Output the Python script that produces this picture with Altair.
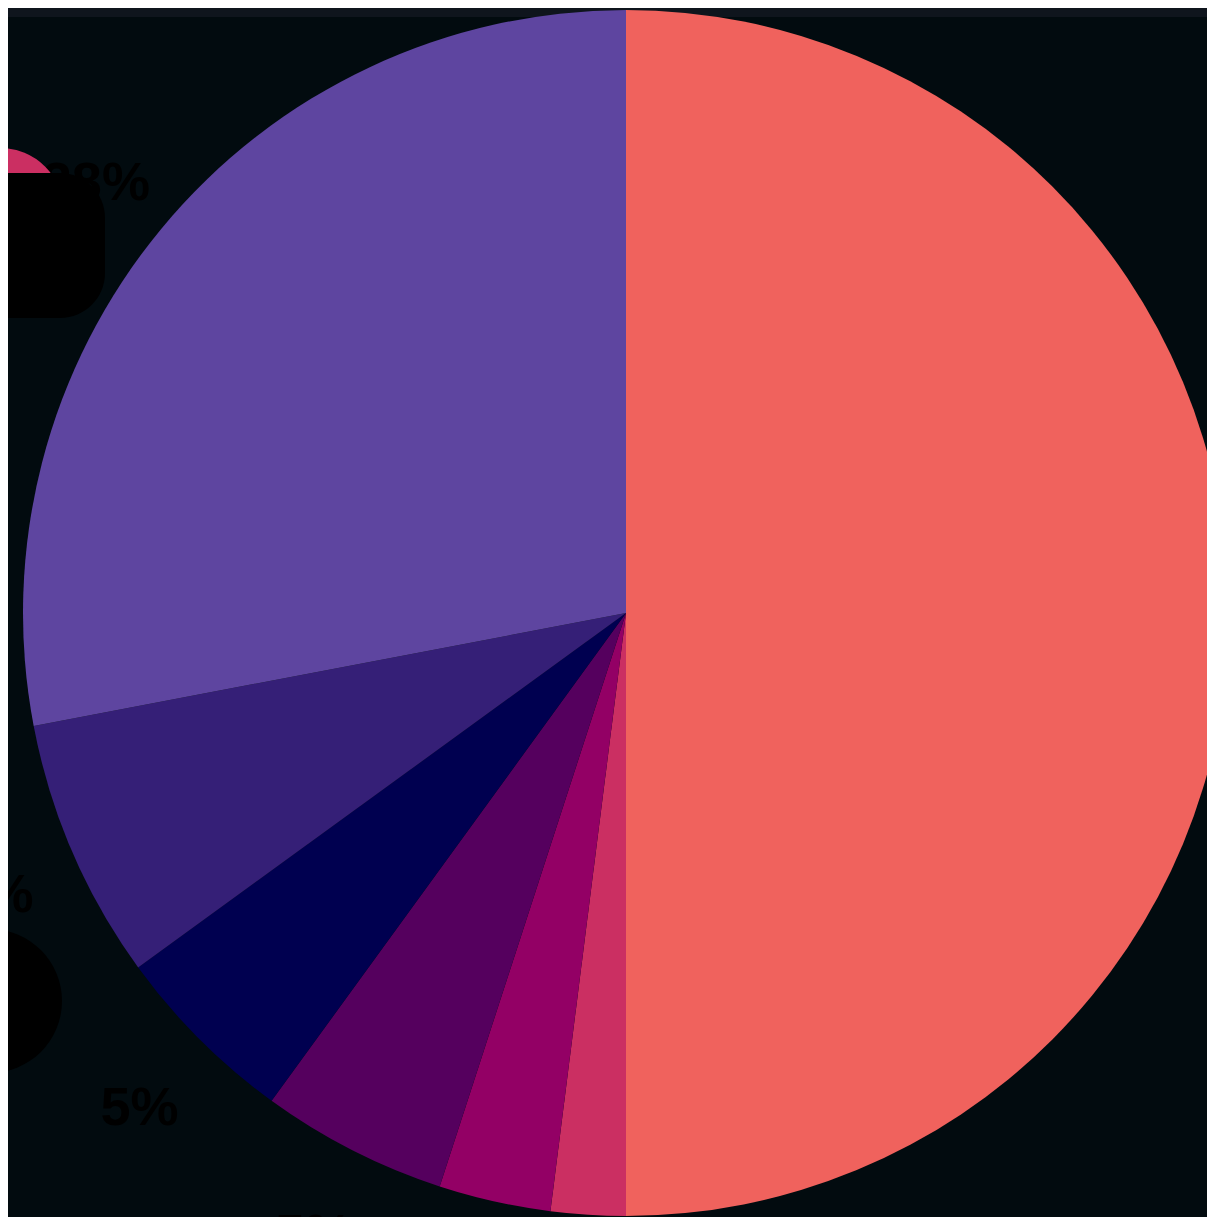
import altair as alt
import pandas as pd

categories = ["Coral", "Pink", "Magenta", "Plum", "Navy", "Indigo", "Purple"]
values = [50, 2, 3, 5, 5, 7, 28]
labels = ["50%", "2%", "3%", "5%", "5%", "7%", "28%"]
colors = ["#F0625D", "#CB2F62", "#930065", "#55005E", "#000050", "#351F77", "#5E45A0"]

df = pd.DataFrame({
    "category": categories,
    "value": values,
    "label": labels,
    "order": list(range(len(categories))),
})
one = pd.DataFrame({"k": [0]})

base = alt.Chart(df).encode(
    theta=alt.Theta("value:Q", stack=True),
    order=alt.Order("order:Q"),
    x=alt.value(618),
    y=alt.value(605),
)

pie = base.mark_arc(outerRadius=603).encode(
    color=alt.Color("category:N", scale=alt.Scale(domain=categories, range=colors), legend=None)
)

text = base.mark_text(
    radius=688, dy=10, fontSize=54, fontWeight="bold", font="Liberation Sans"
).encode(text="label:N", color=alt.value("#000000"))

band = alt.Chart(one).mark_rect(color="#0f151d").encode(
    x=alt.value(0), x2=alt.value(1199), y=alt.value(0), y2=alt.value(9)
)

pink_dot = alt.Chart(one).mark_circle(color="#CB2F62", opacity=1, size=16384).encode(
    x=alt.value(-8), y=alt.value(204)
)
black_box = alt.Chart(one).mark_rect(color="#000000", cornerRadius=45).encode(
    x=alt.value(-60), x2=alt.value(97), y=alt.value(165), y2=alt.value(310)
)
white_zero = alt.Chart(one).mark_text(
    text="0", color="#ffffff", fontSize=60, fontWeight="bold", font="Liberation Sans",
    align="right", baseline="middle"
).encode(x=alt.value(-3), y=alt.value(232))
black_dot = alt.Chart(one).mark_circle(color="#000000", opacity=1, size=20736).encode(
    x=alt.value(-18), y=alt.value(993)
)

chart = alt.layer(band, pie, text, pink_dot, black_box, white_zero, black_dot).properties(
    width=1199,
    height=1209,
    padding=0,
    autosize=alt.AutoSizeParams(type="none"),
    background="#020b0f",
).configure_view(stroke=None)

chart.save("out.html", embed_options={"renderer": "svg", "actions": False})
